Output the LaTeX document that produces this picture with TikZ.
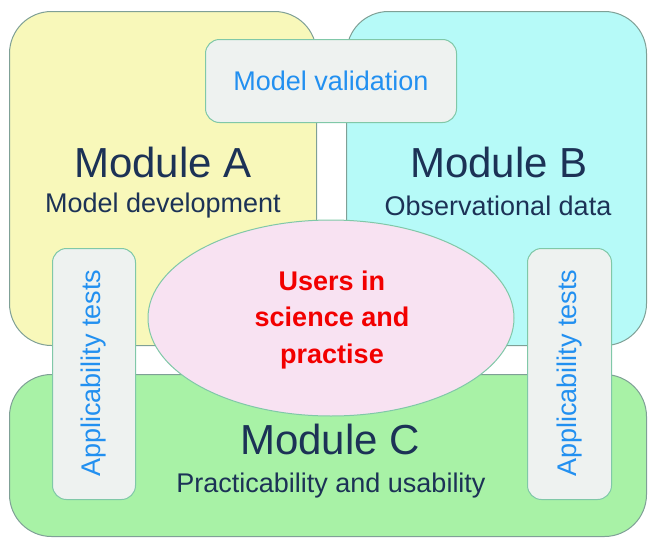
\documentclass[tikz,border=0pt]{standalone}
\usepackage{fontspec}
\setmainfont{Liberation Sans}
\usetikzlibrary{shapes.geometric}
\definecolor{modA}{HTML}{F8F8BA}
\definecolor{modB}{HTML}{B6FAF8}
\definecolor{modC}{HTML}{A8F2A6}
\definecolor{modEdge}{HTML}{7FA096}
\definecolor{boxFill}{HTML}{EEF2F0}
\definecolor{boxEdge}{HTML}{80C8A8}
\definecolor{ellFill}{HTML}{F8E2F2}
\definecolor{navy}{HTML}{1C3256}
\definecolor{skyblue}{HTML}{2290F0}
\definecolor{usersred}{HTML}{F20000}
\tikzset{
  module/.style={draw=modEdge, line width=1pt, rounded corners=42pt, anchor=north west, inner sep=0pt},
  smallbox/.style={draw=boxEdge, fill=boxFill, line width=1pt, rounded corners=14pt, anchor=north west, inner sep=0pt},
  title/.style={text=navy, font=\fontsize{42}{46}\selectfont},
  subtitle/.style={text=navy, font=\fontsize{27}{30}\selectfont},
  bluetext/.style={text=skyblue, font=\fontsize{27}{30}\selectfont},
}
\begin{document}
\begin{tikzpicture}[x=1pt,y=-1pt]
\useasboundingbox (0,0) rectangle (648,538);
% modules
\node[module, fill=modA, minimum width=307pt, minimum height=334pt] (A) at (9,11) {};
\node[module, fill=modB, minimum width=300pt, minimum height=334pt] (B) at (346,11) {};
\node[module, fill=modC, minimum width=637pt, minimum height=162pt] (C) at (9,374) {};
% validation and applicability boxes
\node[smallbox, minimum width=251pt, minimum height=83pt] (V) at (205,39) {};
\node[bluetext] (Vt) at (331,81) {Model validation};
\node[smallbox, minimum width=83pt, minimum height=251pt] (L) at (52,248) {};
\node[bluetext, rotate=90] (Lt) at (94,373) {Applicability tests};
\node[smallbox, minimum width=84pt, minimum height=251pt] (R) at (527,248) {};
\node[bluetext, rotate=90] (Rt) at (570,373) {Applicability tests};
% module texts
\node[title] (At) at (163,162) {Module A};
\node[subtitle] (As) at (163,206) {Model development};
\node[title] (Bt) at (499,162) {Module B};
\node[subtitle] (Bs) at (498,206) {Observational data};
\node[title] (Ct) at (330,439) {Module C};
\node[subtitle] (Cs) at (331,486) {Practicability and usability};
% users ellipse
\node[ellipse, draw=boxEdge, fill=ellFill, line width=1pt, minimum width=366pt, minimum height=196pt, inner sep=0pt] (U) at (331,318) {};
\node[text=usersred, font=\bfseries\fontsize{27}{36.5}\selectfont, align=center] (Ut) at (332,320) {Users in\\science and\\practise};
\end{tikzpicture}
\end{document}
